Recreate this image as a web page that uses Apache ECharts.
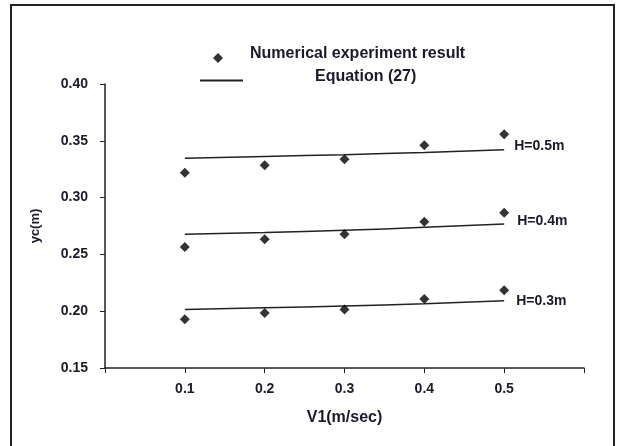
<!DOCTYPE html>
<html>
<head>
<meta charset="utf-8">
<script src="https://cdn.jsdelivr.net/npm/echarts@6/dist/echarts.min.js"></script>
<style>html,body{margin:0;padding:0;background:#fff}#c{width:619px;height:446px}</style>
</head>
<body>
<div id="c"></div>
<script>
var xValues = [0.1, 0.2, 0.3, 0.4, 0.5];
var expH05 = [0.3218, 0.3284, 0.3337, 0.3460, 0.3557];
var expH04 = [0.2565, 0.2633, 0.2677, 0.2788, 0.2867];
var expH03 = [0.1929, 0.1984, 0.2016, 0.2107, 0.2184];
var eqH05 = [0.3346, 0.3362, 0.3378, 0.3398, 0.3422];
var eqH04 = [0.2677, 0.2692, 0.2712, 0.2738, 0.2768];
var eqH03 = [0.2016, 0.2030, 0.2046, 0.2066, 0.2092];
var curveLabels = ['H=0.5m', 'H=0.4m', 'H=0.3m'];
var xTickLabels = ['0.1', '0.2', '0.3', '0.4', '0.5'];
var expName = 'Numerical experiment result';
var eqName = 'Equation (27)';

function pairs(ys) { return xValues.map(function (x, i) { return [x, ys[i]]; }); }

var FONT = 'Liberation Sans';
var TXT = '#1a1a2a';
var chart = echarts.init(document.getElementById('c'), null, {renderer: 'canvas'});
var expSets = [expH05, expH04, expH03];
var eqSets = [eqH05, eqH04, eqH03];
var labelOffsets = [[10, -4], [13, -3], [12, 0]];
var series = [];
expSets.forEach(function (s) {
  series.push({
    type: 'scatter', name: expName, data: pairs(s),
    symbol: 'diamond', symbolSize: [10, 10],
    itemStyle: {color: '#000'}, z: 3
  });
});
eqSets.forEach(function (s, i) {
  series.push({
    type: 'line', name: eqName, data: pairs(s),
    showSymbol: false, symbol: 'none', smooth: true,
    lineStyle: {color: '#222', width: 1.5},
    itemStyle: {color: '#222'},
    endLabel: {
      show: true, formatter: curveLabels[i], distance: 0, offset: labelOffsets[i],
      fontFamily: FONT, fontSize: 14, fontWeight: 'bold', color: TXT
    }
  });
});

chart.setOption({
  animation: false,
  backgroundColor: '#fff',
  grid: {left: 105, right: 35, top: 84, bottom: 78},
  legend: [{
    data: [{name: expName, icon: 'diamond'}],
    left: 208, top: 41, itemWidth: 10, itemHeight: 10,
    itemStyle: {color: '#000'},
    formatter: function (n) { return '{a|' + n + '}'; },
    textStyle: {
      fontFamily: FONT, fontSize: 16, fontWeight: 'bold', color: TXT,
      rich: {a: {fontFamily: FONT, fontSize: 16, fontWeight: 'bold', color: TXT, padding: [0, 0, 8, 22]}}
    }
  }, {
    data: [{name: eqName, icon: 'rect'}],
    left: 195, top: 64, itemWidth: 43, itemHeight: 2,
    itemStyle: {color: '#222'},
    formatter: function (n) { return '{a|' + n + '}'; },
    textStyle: {
      fontFamily: FONT, fontSize: 16, fontWeight: 'bold', color: TXT,
      rich: {a: {fontFamily: FONT, fontSize: 16, fontWeight: 'bold', color: TXT, padding: [0, 0, 7, 67]}}
    }
  }],
  xAxis: {
    type: 'value', min: 0, max: 0.6, interval: 0.1,
    name: 'V1(m/sec)', nameLocation: 'middle', nameGap: 42,
    nameTextStyle: {fontFamily: FONT, fontSize: 16, fontWeight: 'bold', color: TXT},
    axisLine: {show: true, lineStyle: {color: '#222', width: 1.5}},
    axisTick: {show: true, length: 5, lineStyle: {color: '#222'}},
    splitLine: {show: false},
    axisLabel: {
      margin: 14, fontFamily: FONT, fontSize: 14, fontWeight: 'bold', color: TXT,
      formatter: function (v) {
        var s = v.toFixed(1);
        return xTickLabels.indexOf(s) >= 0 ? s : '';
      }
    }
  },
  yAxis: {
    type: 'value', min: 0.15, max: 0.40, interval: 0.05,
    name: 'yc(m)', nameLocation: 'middle', nameGap: 63,
    nameTextStyle: {fontFamily: FONT, fontSize: 13, fontWeight: 'bold', color: TXT},
    axisLine: {show: true, lineStyle: {color: '#222', width: 1.5}},
    axisTick: {show: true, length: 5, lineStyle: {color: '#222'}},
    splitLine: {show: false},
    axisLabel: {
      margin: 17, fontFamily: FONT, fontSize: 14, fontWeight: 'bold', color: TXT,
      formatter: function (v) { return v.toFixed(2); }
    }
  },
  graphic: [{
    type: 'rect', shape: {x: 11, y: 5, width: 603, height: 460},
    style: {fill: 'none', stroke: '#222', lineWidth: 2}, silent: true
  }],
  series: series
});
</script>
</body>
</html>
